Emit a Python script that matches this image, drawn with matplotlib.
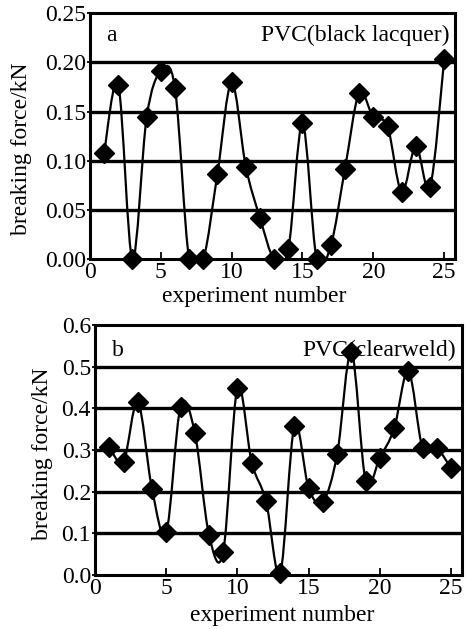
import numpy as np
import matplotlib
matplotlib.use("Agg")
import matplotlib.pyplot as plt
from matplotlib.path import Path
from matplotlib.patches import PathPatch

plt.rcParams['font.family'] = ['Liberation Serif', 'DejaVu Serif']
plt.rcParams['font.size'] = 17

# experiment numbers and breaking force (kN)
exp_no = np.arange(1, 26)
force_black = [0.108, 0.177, 0.000, 0.144, 0.191, 0.174, 0.000, 0.000, 0.087, 0.180,
               0.094, 0.042, 0.000, 0.010, 0.138, 0.000, 0.014, 0.092, 0.169, 0.144,
               0.135, 0.068, 0.115, 0.073, 0.203]
force_clear = [0.308, 0.272, 0.416, 0.206, 0.102, 0.404, 0.342, 0.096, 0.056, 0.450,
               0.270, 0.178, 0.004, 0.358, 0.208, 0.176, 0.290, 0.536, 0.226, 0.282,
               0.352, 0.490, 0.304, 0.304, 0.256]

yticks_a = [0.00, 0.05, 0.10, 0.15, 0.20, 0.25]
yticks_b = [0.0, 0.1, 0.2, 0.3, 0.4, 0.5, 0.6]
xticks = [0, 5, 10, 15, 20, 25]


def smooth_path(x, y):
    # Catmull-Rom curve through the points, drawn as bezier segments
    p = np.column_stack([x, y]).astype(float)
    p_ext = np.vstack([p[0], p, p[-1]])
    verts = [p[0]]
    codes = [Path.MOVETO]
    for i in range(len(p) - 1):
        p0, p1, p2, p3 = p_ext[i], p_ext[i + 1], p_ext[i + 2], p_ext[i + 3]
        verts += [p1 + (p2 - p0) / 6, p2 - (p3 - p1) / 6, p2]
        codes += [Path.CURVE4] * 3
    return Path(verts, codes)


def panel(ax, y, yticks, fmt, letter, name, xlab_pos, ylab_pos, letter_y):
    ax.set_ylim(yticks[0], yticks[-1])
    ax.set_yticks(yticks)
    ax.set_yticklabels([fmt % v for v in yticks])
    ax.set_xlim(0, 25.75)
    ax.set_xticks(xticks)
    for v in yticks[1:-1]:
        ax.axhline(v, color='black', lw=2.4, zorder=1)
    ax.add_patch(PathPatch(smooth_path(exp_no, y), fill=False, ec='black', lw=1.6, zorder=2))
    ax.plot(exp_no, y, ls='none', marker='D', ms=10, color='black', zorder=3, clip_on=False)
    ax.tick_params(axis='x', direction='in', length=5, width=1.3, pad=2)
    ax.tick_params(axis='y', direction='out', length=2, width=1.3, pad=1)
    for s in ax.spines.values():
        s.set_linewidth(2.2)
    ax.set_xlabel('experiment number')
    ax.set_ylabel('breaking force/kN')
    ax.xaxis.set_label_coords(*xlab_pos)
    ax.yaxis.set_label_coords(*ylab_pos)
    ax.text(0.045, letter_y, letter, transform=ax.transAxes, ha='left', va='center')
    ax.text(0.985, letter_y, name, transform=ax.transAxes, ha='right', va='center')


fig = plt.figure(figsize=(4.66, 6.29), dpi=100)
ax1 = fig.add_axes([0.193, 0.588, 0.783, 0.391])
ax2 = fig.add_axes([0.204, 0.086, 0.787, 0.397])

panel(ax1, force_black, yticks_a, '%.2f', 'a', 'PVC(black lacquer)',
      (0.45, -0.11), (-0.158, 0.45), 0.91)
panel(ax2, force_clear, yticks_b, '%.1f', 'b', 'PVC(clearweld)',
      (0.51, -0.12), (-0.114, 0.484), 0.9)

fig.savefig('out.png', dpi=100)
